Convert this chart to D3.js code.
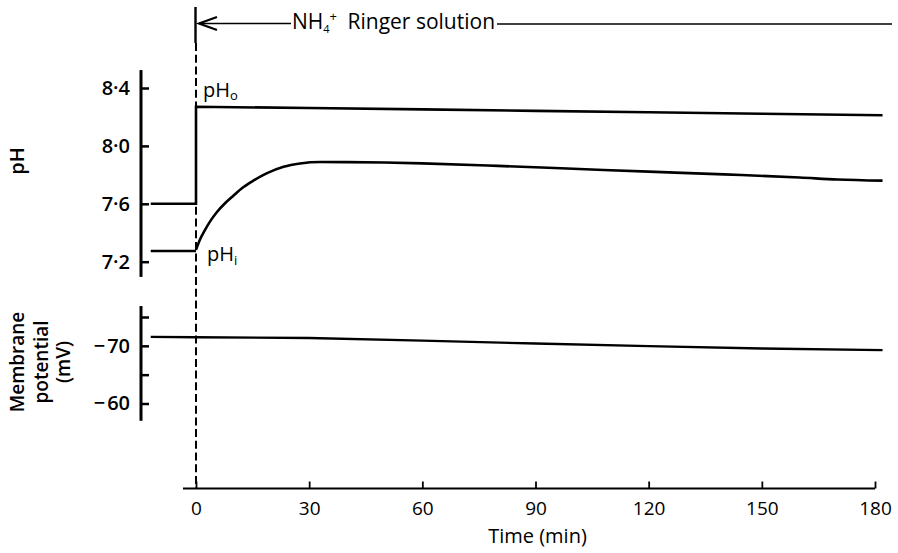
<!DOCTYPE html>
<html>
<head>
<meta charset="utf-8">
<script src="https://cdn.jsdelivr.net/npm/d3@7/dist/d3.min.js"></script>
<style>
  html, body { margin: 0; padding: 0; background: #fff; }
  svg { display: block; }
  text { font-family: "Open Sans", Lato, sans-serif; fill: #000; }
</style>
</head>
<body>
<svg id="chart" width="898" height="553"></svg>
<script>
// Time axis (min)
const timeTicks = [0, 30, 60, 90, 120, 150, 180];

// pH axis ticks
const phTicks = [7.2, 7.6, 8.0, 8.4];

// Membrane potential axis ticks (mV); only some are labelled
const vmTicks = [-75, -70, -65, -60];
const vmLabelled = [-70, -60];

// Extracellular pH (pH_o): control level before t = 0, then NH4+ Ringer
const phoTime  = [-12, 0, 0, 30, 60, 90, 120, 150, 182];
const phoValue = [7.6, 7.6, 8.27, 8.262, 8.252, 8.242, 8.232, 8.222, 8.212];

// Intracellular pH (pH_i): control level before t = 0
const phiControlTime  = [-12, 0];
const phiControlValue = [7.274, 7.274];

// Intracellular pH (pH_i) in NH4+ Ringer
const phiTime  = [0, 1, 2.4, 3.7, 5.5, 7.7, 9.9, 12.5, 15.2, 18.7, 23.2, 27.6, 33, 40, 50, 60, 80, 100, 120, 140, 160, 170, 182];
const phiValue = [7.282, 7.35, 7.42, 7.477, 7.542, 7.604, 7.656, 7.714, 7.76, 7.81, 7.856, 7.879, 7.889, 7.888, 7.885, 7.879, 7.862, 7.842, 7.822, 7.803, 7.782, 7.768, 7.76];

// Membrane potential (mV)
const vmTime  = [-12, 0, 30, 60, 90, 120, 150, 182];
const vmValue = [-71.55, -71.5, -71.35, -70.9, -70.4, -69.95, -69.55, -69.25];

const svg = d3.select("#chart");

const x = d3.scaleLinear().domain([0, 180]).range([196, 875]);
const yPH = d3.scaleLinear().domain([7.2, 8.4]).range([261.7, 88]);
const yVm = d3.scaleLinear().domain([-75, -60]).range([317, 403.5]);

const axisY = 488.5;
const phAxisX = 141;

// ---- x axis ----
svg.append("line")
  .attr("x1", 183).attr("x2", x(180))
  .attr("y1", axisY).attr("y2", axisY)
  .attr("stroke", "#000").attr("stroke-width", 2.2);

const xAxis = svg.append("g")
  .attr("transform", `translate(0,${axisY})`)
  .call(d3.axisBottom(x).tickValues(timeTicks).tickSizeInner(-7).tickSizeOuter(0).tickPadding(13).tickFormat(d3.format("d")));
xAxis.select(".domain").remove();
xAxis.selectAll(".tick line").attr("stroke", "#000").attr("stroke-width", 1.8);
xAxis.selectAll(".tick text")
  .style("font-family", "'Open Sans', sans-serif")
  .style("font-size", "19px")
  .style("font-weight", "500")
  .attr("fill", "#000");

svg.append("text")
  .attr("x", x(90) + 2).attr("y", 543)
  .attr("text-anchor", "middle")
  .style("font-size", "20px")
  .style("font-weight", "500")
  .text("Time (min)");

// ---- pH axis ----
const phAxis = svg.append("g")
  .attr("transform", `translate(${phAxisX},0)`)
  .call(d3.axisLeft(yPH).tickValues(phTicks).tickSizeInner(-8).tickSizeOuter(0).tickPadding(11)
    .tickFormat(d => d.toFixed(1).replace(".", "\u00B7")));
phAxis.select(".domain").remove();
phAxis.selectAll(".tick line").attr("stroke", "#000").attr("stroke-width", 2.5);
phAxis.selectAll(".tick text")
  .style("font-family", "'Open Sans', sans-serif")
  .style("font-size", "20px")
  .style("font-weight", "600")
  .attr("fill", "#000");
svg.append("line")
  .attr("x1", phAxisX).attr("x2", phAxisX)
  .attr("y1", yPH(8.524)).attr("y2", yPH(7.095))
  .attr("stroke", "#000").attr("stroke-width", 3);

svg.append("text")
  .attr("transform", "translate(24,161) rotate(-90)")
  .attr("text-anchor", "middle")
  .style("font-size", "20px")
  .style("font-weight", "600")
  .text("pH");

// ---- membrane potential axis ----
const vmAxis = svg.append("g")
  .attr("transform", `translate(${phAxisX},0)`)
  .call(d3.axisLeft(yVm).tickValues(vmTicks).tickSizeInner(-8).tickSizeOuter(0).tickPadding(11)
    .tickFormat(d => vmLabelled.includes(d) ? "\u2212\u200A" + Math.abs(d) : ""));
vmAxis.select(".domain").remove();
vmAxis.selectAll(".tick line").attr("stroke", "#000").attr("stroke-width", 2.5);
vmAxis.selectAll(".tick text")
  .style("font-family", "'Open Sans', sans-serif")
  .style("font-size", "20px")
  .style("font-weight", "600")
  .attr("fill", "#000");
svg.append("line")
  .attr("x1", phAxisX).attr("x2", phAxisX)
  .attr("y1", yVm(-76.9)).attr("y2", yVm(-57))
  .attr("stroke", "#000").attr("stroke-width", 3);

const vmLabel = svg.append("text")
  .attr("transform", "translate(0,362) rotate(-90)")
  .attr("text-anchor", "middle")
  .style("font-size", "19px")
  .style("font-weight", "600");
[["Membrane", 24], ["potential", 48], ["(mV)", 70]].forEach(([t, yy]) => {
  vmLabel.append("tspan").attr("x", 0).attr("y", yy).text(t);
});

// ---- NH4+ application marker ----
svg.append("line")
  .attr("x1", x(0) - 0.5).attr("x2", x(0) - 0.5)
  .attr("y1", 7).attr("y2", 43)
  .attr("stroke", "#000").attr("stroke-width", 2.4);
svg.append("line")
  .attr("x1", x(0)).attr("x2", x(0))
  .attr("y1", 43).attr("y2", axisY)
  .attr("stroke", "#000").attr("stroke-width", 2)
  .attr("stroke-dasharray", "8,3.7");

const arrowY = 23.5;
const labelX = 292;
const label = svg.append("text")
  .attr("x", labelX).attr("y", 29)
  .style("font-size", "21px");
label.append("tspan").text("NH");
label.append("tspan").attr("dy", 4).style("font-size", "11px").text("4");
label.append("tspan").attr("dy", -12).style("font-size", "13px").text("+");
label.append("tspan").attr("dy", 8).text("\u2002Ringer solution");
const labelEnd = labelX + label.node().getComputedTextLength();

// arrow shaft and head pointing back to t = 0
svg.append("line")
  .attr("x1", x(0) + 3).attr("x2", labelX - 1)
  .attr("y1", arrowY).attr("y2", arrowY)
  .attr("stroke", "#000").attr("stroke-width", 1.7);
svg.append("path")
  .attr("d", `M${x(0) + 21},${arrowY - 6.5} L${x(0) + 3},${arrowY} L${x(0) + 21},${arrowY + 6.5}`)
  .attr("fill", "none").attr("stroke", "#000").attr("stroke-width", 2.2);
svg.append("line")
  .attr("x1", labelEnd + 2).attr("x2", x(184.5))
  .attr("y1", arrowY + 0.5).attr("y2", arrowY + 0.5)
  .attr("stroke", "#000").attr("stroke-width", 1.7);

// ---- traces ----
const phLine = d3.line().x(d => x(d[0])).y(d => yPH(d[1]));
const phCurve = d3.line().x(d => x(d[0])).y(d => yPH(d[1])).curve(d3.curveMonotoneX);
const vmLine = d3.line().x(d => x(d[0])).y(d => yVm(d[1]));

svg.append("path")
  .datum(phoTime.map((t, i) => [t, phoValue[i]]))
  .attr("d", phLine)
  .attr("fill", "none").attr("stroke", "#000").attr("stroke-width", 2.6);

svg.append("path")
  .datum(phiControlTime.map((t, i) => [t, phiControlValue[i]]))
  .attr("d", phLine)
  .attr("fill", "none").attr("stroke", "#000").attr("stroke-width", 2.4);
svg.append("path")
  .datum(phiTime.map((t, i) => [t, phiValue[i]]))
  .attr("d", phCurve)
  .attr("fill", "none").attr("stroke", "#000").attr("stroke-width", 2.6);

svg.append("path")
  .datum(vmTime.map((t, i) => [t, vmValue[i]]))
  .attr("d", vmLine)
  .attr("fill", "none").attr("stroke", "#000").attr("stroke-width", 2.4);

// trace labels
const pho = svg.append("text").attr("x", 203).attr("y", 97).style("font-size", "20px");
pho.append("tspan").text("pH");
pho.append("tspan").attr("dy", 3).style("font-size", "13px").text("o");

const phi = svg.append("text").attr("x", 207).attr("y", 261).style("font-size", "20px");
phi.append("tspan").text("pH");
phi.append("tspan").attr("dy", 4).style("font-size", "13px").text("i");
</script>
</body>
</html>
